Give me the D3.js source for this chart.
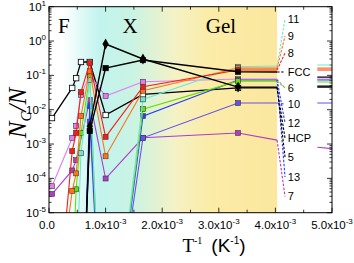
<!DOCTYPE html>
<html>
<head>
<meta charset="utf-8">
<script src="https://cdn.jsdelivr.net/npm/d3@7"></script>
<style>
  body { margin: 0; background: #fff; }
</style>
</head>
<body>
<div id="chart"></div>
<script>
// inverse temperature columns, in units of 1e-3 K^-1
const invT = [0.053, 0.2, 0.41, 0.48, 0.565, 0.62, 0.72, 0.9, 1.0, 1.2, 1.66, 3.34, 4.03];
const tailInvT = [4.74, 5.3];

// Nc/N for each cluster type (null = no point at that column, values < 1e-5 fall off the axis)
const aqua11   = [null, null, null, 1e-7, 5.4e-4, null, 0.073, 1e-8, null, 1e-8, 0.020, 0.178, 0.187];
const orange9  = [null, 1e-7, 4.3e-5, 1.4e-4, 6.6e-3, null, 0.133, null, 4.4e-4, null, 0.0356, 0.163, 0.163];
const red8     = [null, 1e-7, 6.2e-4, 2.1e-3, 0.0326, null, 0.229, null, 1.62e-3, null, 0.0466, 0.143, 0.143];
const pink6    = [5.9e-5, null, 1.5e-3, 3.4e-3, 0.0267, null, 0.102, null, 0.025, null, 0.065, 0.078, 0.078];
const purple7  = [3.5e-5, null, 1.7e-4, 3.4e-4, null, null, 0.019, null, 9.9e-5, null, 1.52e-3, 2.1e-3, 1.3e-3];
const green6   = [null, null, 1e-7, 4.8e-5, 2.08e-3, null, 0.09, 1e-8, null, 1e-8, 0.0104, 0.068, 0.068];
const blue12   = [null, null, null, null, null, 1e-7, 0.0127, 1e-8, null, 1e-8, 6.5e-3, 0.073, 0.073];
const violet10 = [null, null, null, null, null, 1e-7, 4.5e-3, 1e-8, null, 1e-8, 1.52e-3, 0.0156, 0.0156];
const blackHCP = [5.7e-3, null, 0.043, 0.083, 0.245, null, 0.245, null, 7.0e-3, null, 0.0279, 0.043, 0.043];
const black5   = [null, null, null, null, null, 1e-7, 3.3e-3, null, 0.818, null, 0.30, 0.0456, 0.0456];
const blackFCC = [null, null, null, null, null, 1e-7, 2.4e-3, null, 0.163, null, 0.279, 0.127, 0.125];

// values of the same curves beyond the gap on the right
const tails = {
  aqua11: [0.2, 0.2], orange9: [0.163, 0.163], red8: [0.143, 0.143], pink6: [0.078, 0.078],
  purple7: [8.1e-4, 6.6e-4], green6: [0.064, 0.064], blue12: [0.073, 0.073], violet10: [0.0156, 0.0156],
  blackHCP: [0.0488, 0.0488], black5: [0.0456, 0.0456], blackFCC: [0.089, 0.089]
};

// labels on the right and their heights (in Nc/N units)
const labelNames = ["11", "9", "8", "FCC", "6", "10", "12", "HCP", "5", "13", "7"];
const labelVals  = [4.4, 1.4, 0.45, 0.125, 0.043, 0.0146, 4.1e-3, 1.5e-3, 4.2e-4, 1.1e-4, 3.0e-5];

const yTicks = [1e-5, 1e-4, 1e-3, 1e-2, 1e-1, 1, 10];
const xTicks = [0, 1, 2, 3, 4, 5];

const series = [
  {key: "blackHCP", values: blackHCP, color: "#000", marker: "open", to: ["HCP"], w: 1.3},
  {key: "purple7", values: purple7, color: "#b03cc8", marker: "sq", to: ["7"], w: 1.1},
  {key: "pink6", values: pink6, color: "#e27cf0", marker: "sq", to: ["6"], w: 1.1},
  {key: "violet10", values: violet10, color: "#6a4ee6", marker: "sq", to: ["10"], w: 1.1},
  {key: "blue12", values: blue12, color: "#2a3cff", marker: "sq", to: ["12", "13"], w: 1.1},
  {key: "green6", values: green6, color: "#66e000", marker: "sq", to: ["6"], w: 1.1},
  {key: "aqua11", values: aqua11, color: "#6ee6d6", marker: "sq", to: ["11"], w: 1.1},
  {key: "orange9", values: orange9, color: "#ff7216", marker: "sq", to: ["9"], w: 1.1},
  {key: "red8", values: red8, color: "#ff1a10", marker: "sq", to: ["8"], w: 1.1},
  {key: "black5", values: black5, color: "#000", marker: "diamond", to: ["5"], w: 1.4},
  {key: "blackFCC", values: blackFCC, color: "#000", marker: "filled", to: ["FCC"], w: 1.4}
];

const width = 354, height = 263;
const x = d3.scaleLinear().domain([0, 5]).range([49, 332]);
const y = d3.scaleLog().domain([1e-5, 10]).range([212.7, 6.7]);

const svg = d3.select("#chart").append("svg")
  .attr("width", width)
  .attr("height", height)
  .attr("viewBox", [0, 0, width, height]);

const defs = svg.append("defs");
defs.append("clipPath").attr("id", "plot")
  .append("rect")
    .attr("x", x(0)).attr("y", y(10))
    .attr("width", x(5) - x(0)).attr("height", y(1e-5) - y(10));

// background: white (F) -> cyan (X) -> yellow (Gel)
const grad = defs.append("linearGradient").attr("id", "bg")
  .attr("gradientUnits", "userSpaceOnUse")
  .attr("x1", x(0)).attr("x2", x(4.03)).attr("y1", 0).attr("y2", 0);
[[0, "#ffffff"], [0.06, "#ffffff"], [0.22, "#c2f4ee"], [0.36, "#c9f3e4"],
 [0.55, "#f4f2c6"], [0.7, "#fbeca8"], [1, "#fbe79e"]].forEach(s =>
  grad.append("stop").attr("offset", s[0]).attr("stop-color", s[1]));

svg.append("rect")
  .attr("x", x(0)).attr("y", y(10))
  .attr("width", x(4.03) - x(0)).attr("height", y(1e-5) - y(10))
  .attr("fill", "url(#bg)");

// region names
svg.append("g")
    .attr("font-family", "'Liberation Serif', serif")
    .attr("font-size", 21)
  .selectAll("text")
  .data([["F", 0.16], ["X", 1.3], ["Gel", 2.77]])
  .join("text")
    .attr("x", d => x(d[1]))
    .attr("y", 33)
    .text(d => d[0]);

// ticks (inward) on all four sides
const axes = svg.append("g").attr("stroke", "#000").attr("stroke-width", 0.8);
const minorY = [];
for (let e = -5; e < 1; e++) for (let m = 2; m < 10; m++) minorY.push(m * Math.pow(10, e));
[x(0), x(5)].forEach((x0, i) => {
  const dir = i === 0 ? 1 : -1;
  axes.selectAll(null).data(yTicks).join("line")
    .attr("x1", x0).attr("x2", x0 + dir * 5).attr("y1", d => y(d)).attr("y2", d => y(d));
  axes.selectAll(null).data(minorY).join("line")
    .attr("x1", x0).attr("x2", x0 + dir * 2.5).attr("y1", d => y(d)).attr("y2", d => y(d));
});
const minorX = d3.range(0.5, 5, 1);
[y(1e-5), y(10)].forEach((y0, i) => {
  const dir = i === 0 ? -1 : 1;
  axes.selectAll(null).data(xTicks).join("line")
    .attr("x1", d => x(d)).attr("x2", d => x(d)).attr("y1", y0).attr("y2", y0 + dir * 5);
  axes.selectAll(null).data(minorX).join("line")
    .attr("x1", d => x(d)).attr("x2", d => x(d)).attr("y1", y0).attr("y2", y0 + dir * 3);
});

// lines
const line = d3.line().x(d => x(d[0])).y(d => y(d[1]));
const plot = svg.append("g").attr("clip-path", "url(#plot)");

series.forEach(s => {
  const pts = invT.map((t, i) => [t, s.values[i]]).filter(d => d[1] != null);
  plot.append("path")
    .attr("d", line(pts))
    .attr("fill", "none")
    .attr("stroke", s.color)
    .attr("stroke-width", s.w);
  const tail = tailInvT.map((t, i) => [t, tails[s.key][i]]);
  plot.append("path")
    .attr("d", line(tail))
    .attr("fill", "none")
    .attr("stroke", s.color)
    .attr("stroke-width", s.w);

  // markers, not on the plateau end point nor off-axis points
  const marks = pts.filter(d => d[1] >= 1e-5 && d[0] < 4);
  if (s.marker === "diamond") {
    plot.append("g").selectAll("path").data(marks).join("path")
      .attr("d", d3.symbol(d3.symbolDiamond, 34))
      .attr("transform", d => `translate(${x(d[0])},${y(d[1])})`)
      .attr("fill", "#000");
  } else {
    const sz = s.marker === "sq" ? 5 : 5.4;
    plot.append("g").selectAll("rect").data(marks).join("rect")
      .attr("x", d => x(d[0]) - sz / 2)
      .attr("y", d => y(d[1]) - sz / 2)
      .attr("width", sz).attr("height", sz)
      .attr("fill", s.marker === "open" ? "#fff" : s.color)
      .attr("stroke", s.marker === "sq" ? "#3a3a3a" : "#000")
      .attr("stroke-width", s.marker === "open" ? 0.8 : 0.6);
  }
});

// dashed leaders from plateau ends to labels
const labelAt = name => labelVals[labelNames.indexOf(name)];
series.forEach(s => {
  const end = s.values[s.values.length - 1];
  s.to.forEach(name => {
    svg.append("line")
      .attr("x1", x(4.03)).attr("y1", y(end))
      .attr("x2", x(4.17)).attr("y2", y(labelAt(name)))
      .attr("stroke", s.color)
      .attr("stroke-width", 1.1)
      .attr("stroke-dasharray", "2.5,1.5");
  });
});

svg.append("g")
    .attr("font-family", "'Liberation Sans', Arial, sans-serif")
    .attr("font-size", 11)
  .selectAll("text")
  .data(labelNames)
  .join("text")
    .attr("x", x(4.22))
    .attr("y", (d, i) => y(labelVals[i]) + 4)
    .text(d => d);

// frame
svg.append("rect")
  .attr("x", x(0)).attr("y", y(10))
  .attr("width", x(5) - x(0)).attr("height", y(1e-5) - y(10))
  .attr("fill", "none").attr("stroke", "#000").attr("stroke-width", 1);

// y tick labels
const yLab = svg.append("g")
    .attr("font-family", "'Liberation Sans', Arial, sans-serif")
    .attr("font-size", 11.5)
    .attr("text-anchor", "end");
yTicks.forEach(v => {
  const t = yLab.append("text").attr("x", 46).attr("y", y(v) + 4);
  t.append("tspan").text("10");
  t.append("tspan").attr("dy", -5).attr("font-size", 8).text(Math.round(Math.log10(v)));
});

// x tick labels
const xLab = svg.append("g")
    .attr("font-family", "'Liberation Sans', Arial, sans-serif")
    .attr("font-size", 11.5)
    .attr("text-anchor", "middle");
xTicks.forEach(v => {
  const t = xLab.append("text").attr("x", x(v) + (v === 0 ? -2 : 0)).attr("y", 229);
  if (v === 0) { t.text("0.0"); return; }
  t.append("tspan").text(v.toFixed(1) + "x10");
  t.append("tspan").attr("dy", -5).attr("font-size", 8).text("-3");
});

// axis titles
const xt = svg.append("text")
  .attr("x", 214).attr("y", 252)
  .attr("text-anchor", "middle")
  .attr("font-size", 19);
xt.append("tspan").attr("font-family", "'Liberation Serif', serif").text("T");
xt.append("tspan").attr("font-family", "'Liberation Serif', serif").attr("font-size", 10).attr("dy", -8).text("-1");
xt.append("tspan").attr("font-family", "'Liberation Sans', Arial, sans-serif").attr("dy", 8).attr("dx", 9).text("(K");
xt.append("tspan").attr("font-family", "'Liberation Sans', Arial, sans-serif").attr("font-size", 10).attr("dy", -8).text("-1");
xt.append("tspan").attr("font-family", "'Liberation Sans', Arial, sans-serif").attr("dy", 8).text(")");

const yt = svg.append("text")
  .attr("transform", "translate(26,113) rotate(-90)")
  .attr("text-anchor", "middle")
  .attr("font-family", "'Liberation Serif', serif")
  .attr("font-style", "italic")
  .attr("font-size", 25);
yt.append("tspan").text("N");
yt.append("tspan").attr("font-size", 15).attr("dy", 5).text("C");
yt.append("tspan").attr("dy", -5).text("/N");
</script>
</body>
</html>
